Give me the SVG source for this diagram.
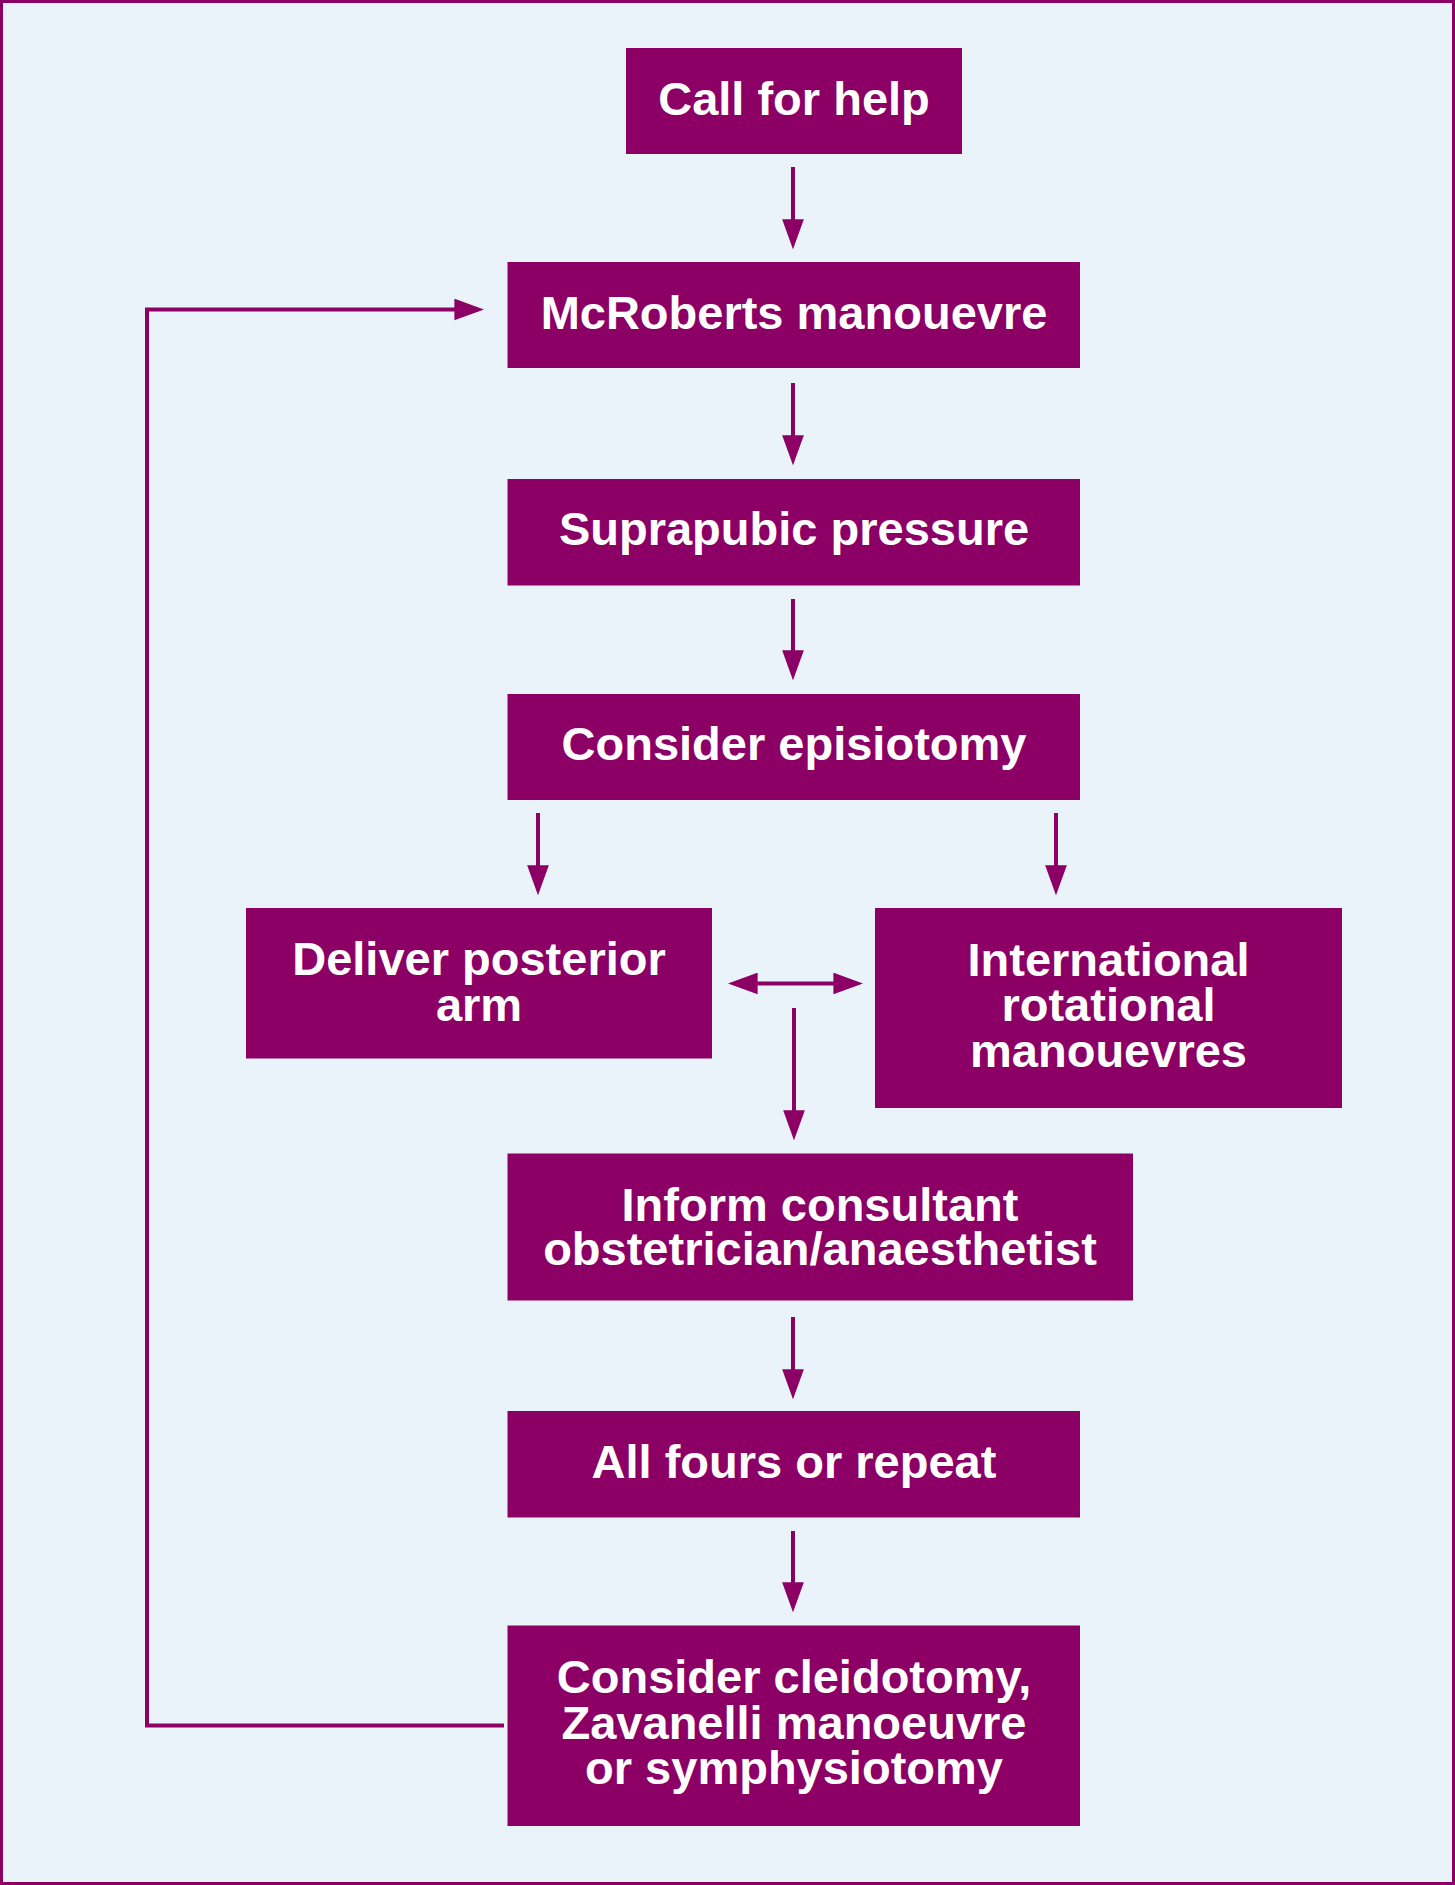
<svg xmlns="http://www.w3.org/2000/svg" width="1455" height="1885" viewBox="0 0 1455 1885">
<style>
.box{fill:#8C0066;}
.lbl{font-family:"Liberation Sans",Arial,sans-serif;font-weight:bold;font-size:47px;fill:#FFFFFF;text-anchor:middle;}
.conn{stroke:#8C0066;stroke-width:4;fill:none;}
</style>
<defs>
<marker id="ah" markerUnits="userSpaceOnUse" markerWidth="30" markerHeight="22" viewBox="0 0 29 21" refX="19" refY="10.5" orient="auto-start-reverse">
<path d="M0,0 L29,10.5 L0,21 z" fill="#8C0066"/>
</marker>
</defs>
<rect x="1.5" y="1.5" width="1452" height="1882" fill="#EBF3FA" stroke="#8C0066" stroke-width="3"/>
<g id="connectors">
<line class="conn" x1="793" y1="167" x2="793" y2="239" marker-end="url(#ah)"/>
<line class="conn" x1="793" y1="383" x2="793" y2="455" marker-end="url(#ah)"/>
<line class="conn" x1="793" y1="599" x2="793" y2="670" marker-end="url(#ah)"/>
<line class="conn" x1="538" y1="813" x2="538" y2="885" marker-end="url(#ah)"/>
<line class="conn" x1="1056" y1="813" x2="1056" y2="885" marker-end="url(#ah)"/>
<line class="conn" x1="738" y1="983.5" x2="853" y2="983.5" marker-start="url(#ah)" marker-end="url(#ah)"/>
<line class="conn" x1="794" y1="1008" x2="794" y2="1130" marker-end="url(#ah)"/>
<line class="conn" x1="793" y1="1317" x2="793" y2="1389" marker-end="url(#ah)"/>
<line class="conn" x1="793" y1="1531" x2="793" y2="1602" marker-end="url(#ah)"/>
<polyline class="conn" points="504,1725.5 147,1725.5 147,309.5 474,309.5" marker-end="url(#ah)"/>
</g>
<g id="call-for-help">
<rect class="box" x="626" y="48" width="336" height="106"/>
<text class="lbl" x="794" y="115">Call for help</text>
</g>
<g id="mcroberts">
<rect class="box" x="507.5" y="262" width="572.5" height="106"/>
<text class="lbl" x="794" y="329">McRoberts manouevre</text>
</g>
<g id="suprapubic">
<rect class="box" x="507.5" y="479" width="572.5" height="106.5"/>
<text class="lbl" x="794" y="545">Suprapubic pressure</text>
</g>
<g id="episiotomy">
<rect class="box" x="507.5" y="694" width="572.5" height="106"/>
<text class="lbl" x="794" y="760">Consider episiotomy</text>
</g>
<g id="posterior-arm">
<rect class="box" x="246" y="908" width="466" height="150.5"/>
<text class="lbl" x="479" y="975">Deliver posterior</text>
<text class="lbl" x="479" y="1020.5">arm</text>
</g>
<g id="rotational">
<rect class="box" x="875" y="908" width="467" height="200"/>
<text class="lbl" x="1108.5" y="976">International</text>
<text class="lbl" x="1108.5" y="1021">rotational</text>
<text class="lbl" x="1108.5" y="1066.5">manouevres</text>
</g>
<g id="inform">
<rect class="box" x="507.5" y="1153.5" width="625.5" height="147"/>
<text class="lbl" x="820" y="1220.5">Inform consultant</text>
<text class="lbl" x="820" y="1265">obstetrician/anaesthetist</text>
</g>
<g id="all-fours">
<rect class="box" x="507.5" y="1411" width="572.5" height="106.5"/>
<text class="lbl" x="794" y="1478">All fours or repeat</text>
</g>
<g id="cleidotomy">
<rect class="box" x="507.5" y="1625.5" width="572.5" height="200.5"/>
<text class="lbl" x="794" y="1692.5">Consider cleidotomy,</text>
<text class="lbl" x="794" y="1738.5">Zavanelli manoeuvre</text>
<text class="lbl" x="794" y="1784">or symphysiotomy</text>
</g>
</svg>
